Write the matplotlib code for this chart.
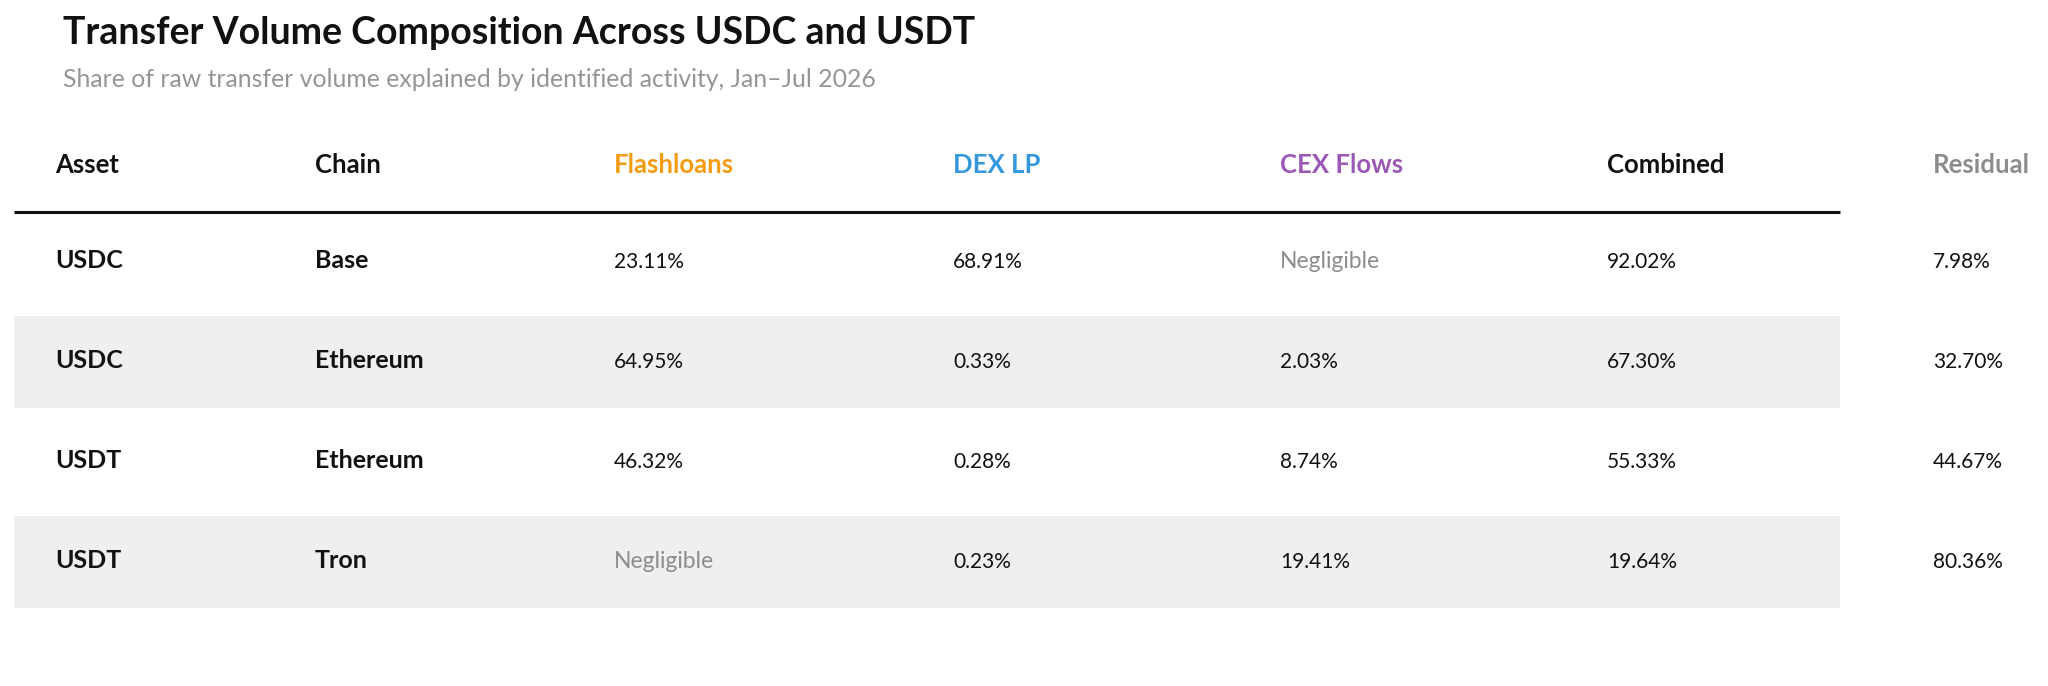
import matplotlib
matplotlib.use("Agg")
import matplotlib.pyplot as plt
from matplotlib.patches import Rectangle

# ---- data ----
columns = ["Asset", "Chain", "Flashloans", "DEX LP", "CEX Flows", "Combined", "Residual"]
assets = ["USDC", "USDC", "USDT", "USDT"]
chains = ["Base", "Ethereum", "Ethereum", "Tron"]
flashloans = [23.11, 64.95, 46.32, None]
dex_lp = [68.91, 0.33, 0.28, 0.23]
cex_flows = [None, 2.03, 8.74, 19.41]
combined = [92.02, 67.30, 55.33, 19.64]
residual = [7.98, 32.70, 44.67, 80.36]

title = "Transfer Volume Composition Across USDC and USDT"
subtitle = "Share of raw transfer volume explained by identified activity, Jan\u2013Jul 2026"

# ---- style ----
FONT = "Lato"
header_colors = ["#111111", "#111111", "#F39C12", "#3498DB", "#9B59B6", "#111111", "#8C8C8C"]
col_x = [55, 315, 614, 953, 1280, 1607, 1933]
band_color = "#EFEFEF"
neg_color = "#8C8C8C"

W, H = 2048, 686
fig = plt.figure(figsize=(W / 100, H / 100), dpi=100)
ax = fig.add_axes([0, 0, 1, 1])
ax.set_xlim(0, W)
ax.set_ylim(H, 0)
ax.axis("off")

ax.text(63, 44, title, fontsize=27, fontweight="bold", family=FONT, color="#111111", va="baseline")
ax.text(63, 87, subtitle, fontsize=17.8, fontweight="normal", family=FONT, color="#959595", va="baseline")

for x, name, c in zip(col_x, columns, header_colors):
    ax.text(x, 173, name, fontsize=18.5, fontweight="bold", family=FONT, color=c, va="baseline")

ax.plot([14, 1840], [212, 212], color="#111111", lw=2.2, solid_capstyle="butt")

def fmt(v):
    return ("Negligible", neg_color, 16.5) if v is None else (f"{v:.2f}%", "#111111", 15)

for i in range(len(assets)):
    center = 262 + 100 * i
    base = center + 6
    if i % 2 == 1:
        ax.add_patch(Rectangle((14, center - 46), 1840 - 14, 92, facecolor=band_color, edgecolor="none", zorder=0))
    ax.text(col_x[0], base, assets[i], fontsize=18, fontweight="bold", family=FONT, color="#111111", va="baseline")
    ax.text(col_x[1], base, chains[i], fontsize=18, fontweight="bold", family=FONT, color="#111111", va="baseline")
    for j, series in enumerate([flashloans, dex_lp, cex_flows, combined, residual]):
        s, c, fs = fmt(series[i])
        ax.text(col_x[j + 2], base, s, fontsize=fs, fontweight="normal", family=FONT, color=c, va="baseline")

fig.savefig("out.png", dpi=100, facecolor="white")
